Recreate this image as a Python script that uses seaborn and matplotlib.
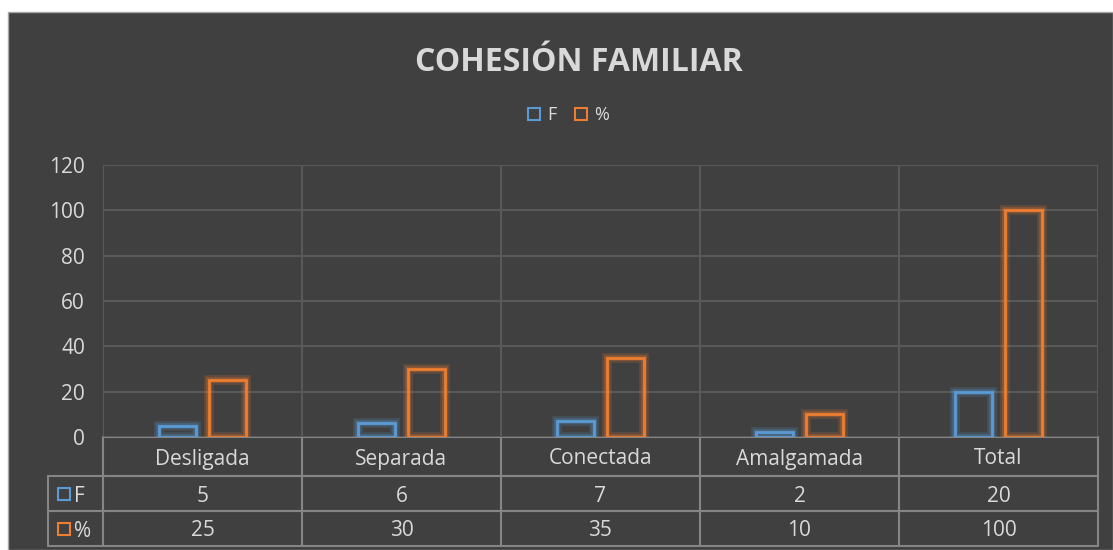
import numpy as np
import pandas as pd
import matplotlib
matplotlib.use('Agg')
import matplotlib.pyplot as plt
import matplotlib.patheffects as pe
from matplotlib.patches import Rectangle
from matplotlib.lines import Line2D
import seaborn as sns

# datos
categorias = ['Desligada', 'Separada', 'Conectada', 'Amalgamada', 'Total']
frecuencia = [5, 6, 7, 2, 20]
porcentaje = [25, 30, 35, 10, 100]
series = ['F', '%']

fondo = '#404040'
texto = '#d9d9d9'
rejilla = '#595959'
borde_tabla = '#858585'
azul = '#5b9bd5'
naranja = '#ed7d31'

sns.set_theme(style='dark')
plt.rcParams['font.family'] = ['Open Sans', 'DejaVu Sans']

df = pd.DataFrame({
    'categoria': categorias * 2,
    'serie': [series[0]] * len(categorias) + [series[1]] * len(categorias),
    'valor': frecuencia + porcentaje,
})

W, H = 1113, 550
fig = plt.figure(figsize=(W / 100, H / 100), dpi=100, facecolor='white')
fig.patches.append(Rectangle((8 / W, 0), 1 - 8 / W, 1 - 12 / H, transform=fig.transFigure,
                             facecolor=fondo, edgecolor='#a6a6a6', lw=1, zorder=-10))

ax = fig.add_axes([103 / W, 113 / H, 995 / W, 272 / H])
ax.set_facecolor('none')

sns.barplot(data=df, x='categoria', y='valor', hue='serie', palette=[azul, naranja],
            fill=False, width=0.5, gap=0.26, linewidth=2, ax=ax, legend=False, zorder=3)

# brillo alrededor de las barras
for p in ax.patches:
    c = p.get_edgecolor()
    p.set_path_effects([pe.Stroke(linewidth=7, foreground=c, alpha=0.18),
                        pe.Stroke(linewidth=4, foreground=c, alpha=0.3),
                        pe.Normal()])

ax.set_ylim(0, 120)
ax.set_yticks(np.arange(0, 121, 20))
ax.set_xlim(-0.5, len(categorias) - 0.5)
ax.set_xticks(range(len(categorias)))
ax.set_xticklabels([])
ax.set_xticks(np.arange(-0.5, len(categorias), 1), minor=True)
ax.set_xlabel('')
ax.set_ylabel('')
ax.tick_params(axis='y', colors=texto, labelsize=15, length=0, pad=13)
ax.tick_params(axis='x', which='both', length=0)
ax.grid(False)
ax.grid(axis='y', color=rejilla, lw=1.5)
ax.grid(axis='x', which='minor', color=rejilla, lw=1.5)
ax.set_axisbelow(True)
for s in ax.spines.values():
    s.set_visible(False)

# tabla de datos (primera columna = etiquetas de fila)
ancho_etq = 55 / 995
tabla = ax.table(cellText=[[''] + [str(v) for v in frecuencia], [''] + [str(v) for v in porcentaje]],
                 colLabels=[''] + categorias, cellLoc='center',
                 colWidths=[ancho_etq] + [1 / len(categorias)] * len(categorias),
                 bbox=[-ancho_etq, -109 / 272, 1 + ancho_etq, 109 / 272])
tabla.auto_set_font_size(False)
tabla.set_fontsize(15)
for (r, c), cell in tabla.get_celld().items():
    cell.set_facecolor('none')
    cell.set_edgecolor(borde_tabla)
    cell.set_linewidth(1.5)
    cell.get_text().set_color(texto)
    cell.get_text().set_va('center_baseline')
    cell.set_height(39 if r == 0 else 35)
tabla[0, 0].visible_edges = ''

# etiquetas de fila con marcador
for yc, lab, col in [(-57 / 272, series[0], azul), (-92 / 272, series[1], naranja)]:
    ax.plot([-ancho_etq + 16 / 995], [yc], marker='s', ms=9, mfc='none', mec=col, mew=1.5,
            transform=ax.transAxes, clip_on=False)
    ax.text(-ancho_etq + 26 / 995, yc, lab, color=texto, fontsize=15, va='center_baseline',
            ha='left', transform=ax.transAxes)

# leyenda
handles = [Line2D([], [], ls='none', marker='s', ms=9, mfc='none', mec=col, mew=1.5)
           for col in [azul, naranja]]
fig.legend(handles, series, loc='center', bbox_to_anchor=(568 / W, 1 - 115 / H), ncol=2,
           frameon=False, labelcolor=texto, fontsize=13, handlelength=0.8, handletextpad=0.3,
           columnspacing=1.0)

fig.text(579 / W, 1 - 62 / H, 'COHESIÓN FAMILIAR', color=texto, fontsize=23,
         fontweight='bold', ha='center', va='center')

fig.savefig('out.png', dpi=100, facecolor='white')
